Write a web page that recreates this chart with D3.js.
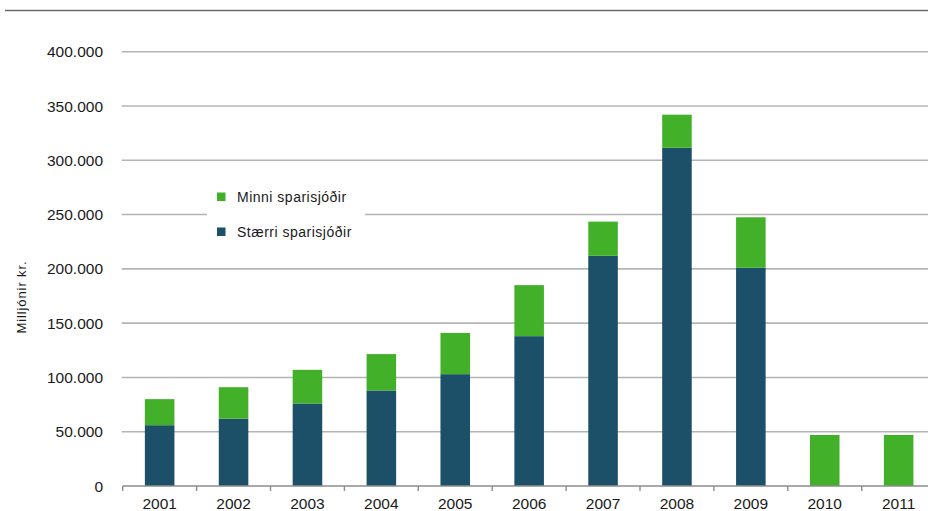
<!DOCTYPE html>
<html>
<head>
<meta charset="utf-8">
<script src="https://cdn.jsdelivr.net/npm/d3@7"></script>
<style>
  body { margin: 0; background: #fff; }
  svg { display: block; font-family: "Liberation Sans", Arial, sans-serif; }
</style>
</head>
<body>
<svg id="chart" width="928" height="511"></svg>
<script>
// Útlán sparisjóða, milljónir kr.
const years = ["2001", "2002", "2003", "2004", "2005", "2006", "2007", "2008", "2009", "2010", "2011"];
const staerri = [56000, 62000, 76000, 88000, 103000, 138000, 212000, 311500, 201000, 0, 0];
const minni = [24000, 29000, 31000, 33500, 38000, 47000, 31500, 30500, 46500, 47000, 47000];
const yTicks = [0, 50000, 100000, 150000, 200000, 250000, 300000, 350000, 400000];
const seriesNames = ["Stærri sparisjóðir", "Minni sparisjóðir"];
const seriesColors = ["#1c5069", "#43b02a"];

const svg = d3.select("#chart");
const W = 928;

const x = d3.scaleBand().domain(years).range([122.7, 935.6]).paddingInner(0.6).paddingOuter(0.3);
const xb = d3.scaleBand().domain(years).range([122.7, 935.6]);
const y = d3.scaleLinear().domain([0, 400000]).range([486, 51.7]);

// top rule
svg.append("line").attr("x1", 5).attr("x2", W).attr("y1", 10.5).attr("y2", 10.5)
  .attr("stroke", "#6a6a6a").attr("stroke-width", 1.6);

// gridlines
svg.append("g").selectAll("line").data(yTicks.filter(d => d > 0)).join("line")
  .attr("x1", 121.7).attr("x2", W)
  .attr("y1", d => y(d)).attr("y2", d => y(d))
  .attr("stroke", "#b4b4b4").attr("stroke-width", 1.6);

// y tick labels
const fmt = d => d === 0 ? "0" : d3.format(",")(d).replace(/,/g, ".");
svg.append("g").selectAll("text").data(yTicks).join("text")
  .attr("x", 103).attr("y", d => y(d)).attr("dy", "0.36em")
  .attr("text-anchor", "end").attr("font-size", 15.5).attr("fill", "#1a1a1a")
  .text(fmt);

// y axis title
svg.append("text")
  .attr("transform", "translate(26,297) rotate(-90)")
  .attr("text-anchor", "middle").attr("font-size", 13).attr("letter-spacing", 0.9)
  .attr("fill", "#1a1a1a")
  .text("Milljónir kr.");

// stacked bars
const rows = years.map((yr, i) => ({ year: yr, s: staerri[i], m: minni[i] }));
const stack = d3.stack().keys(["s", "m"])(rows);
svg.append("g").selectAll("g").data(stack).join("g")
  .attr("fill", (d, i) => seriesColors[i])
  .selectAll("rect").data(d => d.filter(p => p[1] > p[0])).join("rect")
  .attr("x", d => x(d.data.year))
  .attr("width", x.bandwidth())
  .attr("y", d => y(d[1]))
  .attr("height", d => y(d[0]) - y(d[1]));

// x axis
const ax = svg.append("g");
ax.append("line").attr("x1", 122.7).attr("x2", W).attr("y1", 486).attr("y2", 486)
  .attr("stroke", "#8c8c8c").attr("stroke-width", 1.6);
ax.selectAll("line.tick").data(years).join("line").attr("class", "tick")
  .attr("x1", d => xb(d)).attr("x2", d => xb(d)).attr("y1", 486).attr("y2", 491)
  .attr("stroke", "#8c8c8c").attr("stroke-width", 1.4);
ax.selectAll("text").data(years).join("text")
  .attr("x", d => xb(d) + xb.bandwidth() / 2).attr("y", 509)
  .attr("text-anchor", "middle").attr("font-size", 15.5).attr("fill", "#1a1a1a")
  .text(d => d);

// legend
const lg = svg.append("g");
lg.append("rect").attr("x", 207).attr("y", 184).attr("width", 158).attr("height", 62).attr("fill", "#fff");
const legendItems = [
  { name: seriesNames[1], color: seriesColors[1], y: 197 },
  { name: seriesNames[0], color: seriesColors[0], y: 232 }
];
const li = lg.selectAll("g").data(legendItems).join("g");
li.append("rect").attr("x", 217).attr("y", d => d.y - 4.5).attr("width", 8.5).attr("height", 8.5)
  .attr("fill", d => d.color);
li.append("text").attr("x", 237).attr("y", d => d.y).attr("dy", "0.36em")
  .attr("font-size", 14).attr("letter-spacing", 0.5).attr("fill", "#1a1a1a").text(d => d.name);
</script>
</body>
</html>
